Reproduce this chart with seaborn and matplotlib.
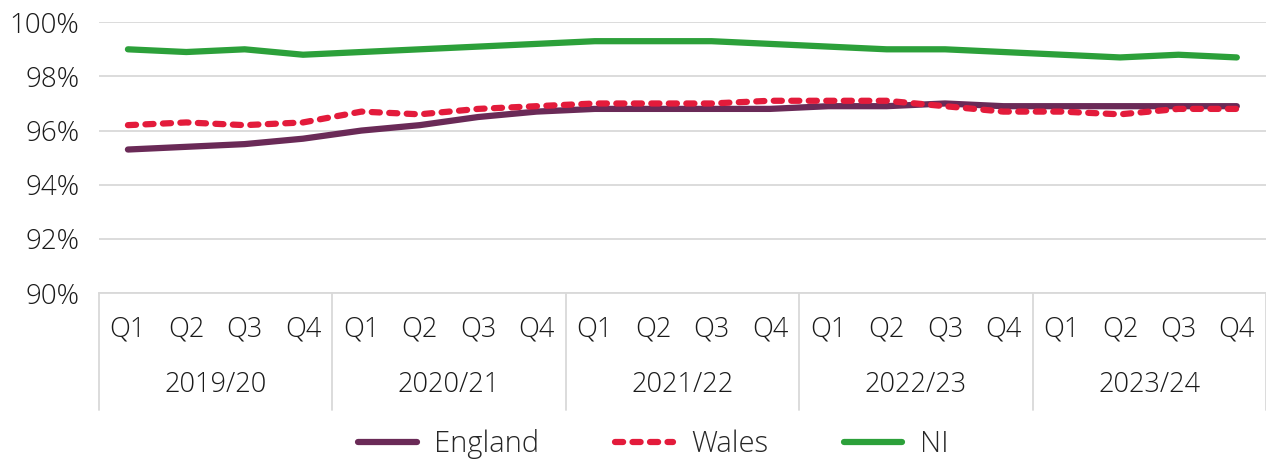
import pandas as pd
import seaborn as sns
import matplotlib.pyplot as plt
import matplotlib.ticker as mtick

# Data
years = ["2019/20", "2020/21", "2021/22", "2022/23", "2023/24"]
quarters = ["Q1", "Q2", "Q3", "Q4"]
england = [95.3, 95.4, 95.5, 95.7, 96.0, 96.2, 96.5, 96.7, 96.8, 96.8,
           96.8, 96.8, 96.9, 96.9, 97.0, 96.9, 96.9, 96.9, 96.9, 96.9]
wales = [96.2, 96.3, 96.2, 96.3, 96.7, 96.6, 96.8, 96.9, 97.0, 97.0,
         97.0, 97.1, 97.1, 97.1, 96.9, 96.7, 96.7, 96.6, 96.8, 96.8]
ni = [99.0, 98.9, 99.0, 98.8, 98.9, 99.0, 99.1, 99.2, 99.3, 99.3,
      99.3, 99.2, 99.1, 99.0, 99.0, 98.9, 98.8, 98.7, 98.8, 98.7]

labels = [q for y in years for q in quarters]
idx = list(range(len(labels)))

df = pd.concat([
    pd.DataFrame({"x": idx, "value": england, "region": "England"}),
    pd.DataFrame({"x": idx, "value": wales, "region": "Wales"}),
    pd.DataFrame({"x": idx, "value": ni, "region": "NI"}),
])

sns.set_style("white")
plt.rcParams['font.family'] = ['Open Sans', 'DejaVu Sans']
plt.rcParams['font.weight'] = 'light'

fig = plt.figure(figsize=(12.66, 4.63), dpi=100)
ax = fig.add_axes([0.078, 0.367, 0.922, 0.585])

palette = {"England": "#6A2A57", "Wales": "#E31B3B", "NI": "#2CA03A"}
wales_dash = (0, (1.3, 1.5))
sns.lineplot(data=df, x="x", y="value", hue="region", palette=palette,
             linewidth=4.5, ax=ax, legend=False)

# style lines
for line, name in zip(ax.get_lines(), ["England", "Wales", "NI"]):
    line.set_solid_capstyle("round")
    if name == "Wales":
        line.set_linestyle(wales_dash)
        line.set_dash_capstyle("round")

ax.set_ylim(90, 100)
ax.set_xlim(-0.5, len(labels) - 0.5)
ax.set_yticks([90, 92, 94, 96, 98, 100])
ax.yaxis.set_major_formatter(mtick.FuncFormatter(lambda v, p: f"{v:.0f}%"))
ax.grid(axis="y", color="#D9D9D9", linewidth=1.3)
ax.set_xticks(idx)
ax.set_xticklabels(labels)
ax.tick_params(axis="x", length=0, pad=16, labelsize=19.5, colors="#1A1A1A")
ax.tick_params(axis="y", length=0, pad=14, labelsize=20, colors="#1A1A1A")
ax.set_xlabel("")
ax.set_ylabel("")
for s in ["top", "right", "left"]:
    ax.spines[s].set_visible(False)
ax.spines["bottom"].set_color("#D9D9D9")
ax.spines["bottom"].set_linewidth(1.3)

# year labels and separators
trans = ax.get_xaxis_transform()
for i, y in enumerate(years):
    ax.text(i * 4 + 1.5, -0.34, y, transform=trans, ha="center", va="center",
            fontsize=19.5, color="#1A1A1A")
for b in range(len(years) + 1):
    ax.plot([b * 4 - 0.5, b * 4 - 0.5], [0, -0.43], transform=trans,
            color="#D9D9D9", linewidth=1.3, clip_on=False)

# legend
handles = [
    plt.Line2D([], [], color=palette["England"], linewidth=4.5, solid_capstyle="round"),
    plt.Line2D([], [], color=palette["Wales"], linewidth=4.5, linestyle=wales_dash,
               dash_capstyle="round"),
    plt.Line2D([], [], color=palette["NI"], linewidth=4.5, solid_capstyle="round"),
]
fig.legend(handles, ["England", "Wales", "NI"], loc="center", ncol=3,
           bbox_to_anchor=(0.516, 0.04), frameon=False, fontsize=21,
           handlelength=2.0, columnspacing=2.6, handletextpad=0.6)

plt.savefig("out.png", dpi=100)
